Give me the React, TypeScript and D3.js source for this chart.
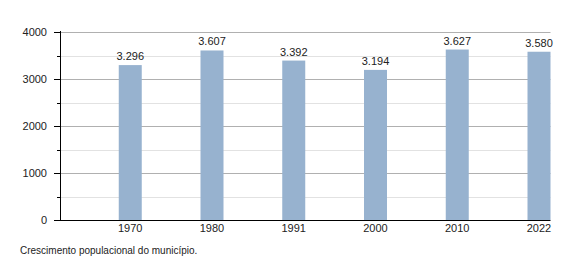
import React from "react";
import * as d3 from "d3";

const years = ["1970", "1980", "1991", "2000", "2010", "2022"];
const population = [3296, 3607, 3392, 3194, 3627, 3580];
const valueLabels = ["3.296", "3.607", "3.392", "3.194", "3.627", "3.580"];
const majorTicks = [0, 1000, 2000, 3000, 4000];
const minorTicks = [500, 1500, 2500, 3500];
const caption = "Crescimento populacional do município.";

export default function App() {
  const W = 580, H = 260;
  const left = 60, right = 550.5, top = 32, bottom = 220;
  const y = d3.scaleLinear().domain([0, 4000]).range([bottom, top]);
  const x = d3.scaleBand<string>().domain(years).range([left, right]).paddingInner(0).paddingOuter(0);
  const bw = 23;
  const font = "'Liberation Sans', Arial, sans-serif";
  return (
    <svg width={W} height={H} style={{ position: "absolute", left: 0, top: 0 }} fontFamily={font}>
      <rect width={W} height={H} fill="#fff" />
      {minorTicks.map((t) => (
        <g key={"m" + t}>
          <line x1={left} x2={right} y1={Math.round(y(t)) + 0.5} y2={Math.round(y(t)) + 0.5} stroke="#e2e2e2" />
          <line x1={left - 3} x2={left} y1={Math.round(y(t)) + 0.5} y2={Math.round(y(t)) + 0.5} stroke="#000" />
        </g>
      ))}
      {majorTicks.map((t) => (
        <g key={"M" + t}>
          {t > 0 && (
            <line x1={left} x2={right} y1={Math.round(y(t)) + 0.5} y2={Math.round(y(t)) + 0.5} stroke="#b0b0b0" />
          )}
          <line x1={left - 6} x2={left} y1={Math.round(y(t)) + 0.5} y2={Math.round(y(t)) + 0.5} stroke="#000" />
          <text x={left - 13} y={y(t) + 4} fontSize={11} textAnchor="end" fill="#222">
            {t}
          </text>
        </g>
      ))}
      {years.map((yr, i) => {
        const bx = (x(yr) as number) + x.bandwidth() - bw;
        const cx = bx + bw / 2;
        return (
          <g key={yr}>
            <rect x={bx} y={y(population[i])} width={bw} height={bottom - y(population[i])} fill="#97b2cf" />
            <text x={cx} y={y(population[i]) - 5} fontSize={11} textAnchor="middle" fill="#222">
              {valueLabels[i]}
            </text>
            <text x={cx} y={bottom + 12} fontSize={11} textAnchor="middle" fill="#222">
              {yr}
            </text>
          </g>
        );
      })}
      <line x1={left + 0.5} x2={left + 0.5} y1={top - 1} y2={bottom} stroke="#000" />
      <line x1={left} x2={right} y1={bottom + 0.5} y2={bottom + 0.5} stroke="#000" />
      <text x={20} y={254} fontSize={10} fill="#222">
        {caption}
      </text>
    </svg>
  );
}
